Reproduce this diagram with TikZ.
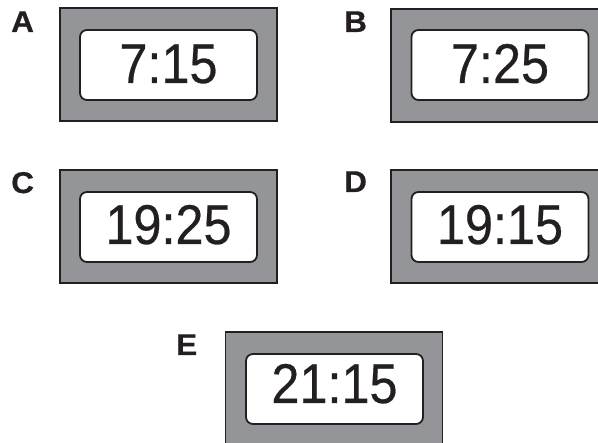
\documentclass[tikz,border=0pt]{standalone}
\usepackage{fontspec}
\setmainfont{Liberation Sans}
\newfontfamily\timefont[FakeStretch=0.9,FakeBold=0.4]{Liberation Sans}
\newfontfamily\labfont[FakeStretch=1.05,FakeBold=0.6]{Liberation Sans Bold}
\definecolor{framegray}{HTML}{939598}
\definecolor{ink}{HTML}{231F20}
\begin{document}
\begin{tikzpicture}[x=1pt,y=-1pt,
  frame/.style={draw=ink, fill=framegray, line width=1.6pt, minimum width=217pt, minimum height=113pt, inner sep=0pt, rectangle},
  screen/.style={draw=ink, fill=white, line width=1.8pt, rounded corners=7pt, minimum width=177pt, minimum height=70pt, inner sep=0pt, rectangle},
  timetext/.style={font=\timefont\fontsize{56}{60}\selectfont, text=ink, anchor=base, inner sep=0pt},
  lab/.style={font=\labfont\fontsize{30}{33}\selectfont, text=ink, anchor=base west, inner sep=0pt}]
\useasboundingbox (0,0) rectangle (598,443);
\begin{scope}
\clip (0,0) rectangle (598,443);
% A
\node[frame] (fA) at (168.5,64.5) {};
\node[screen] (sA) at (168.5,65) {};
\node[timetext] (tA) at (168.5,83) {7:15};
\node[lab] (lA) at (11,32) {A};
% B
\node[frame] (fB) at (499.5,65.5) {};
\node[screen] (sB) at (500,65) {};
\node[timetext] (tB) at (500,83) {7:25};
\node[lab] (lB) at (344,32) {B};
% C
\node[frame] (fC) at (168.5,226.5) {};
\node[screen] (sC) at (168.5,227) {};
\node[timetext] (tC) at (168.5,244) {19:25};
\node[lab] (lC) at (11,193) {C};
% D
\node[frame] (fD) at (499.5,226.5) {};
\node[screen] (sD) at (500,227) {};
\node[timetext] (tD) at (500,244) {19:15};
\node[lab] (lD) at (344,192) {D};
% E
\node[frame] (fE) at (334,388.5) {};
\node[screen] (sE) at (334.5,389) {};
\node[timetext] (tE) at (334.5,403) {21:15};
\node[lab] (lE) at (176,355) {E};
\end{scope}
\end{tikzpicture}
\end{document}
